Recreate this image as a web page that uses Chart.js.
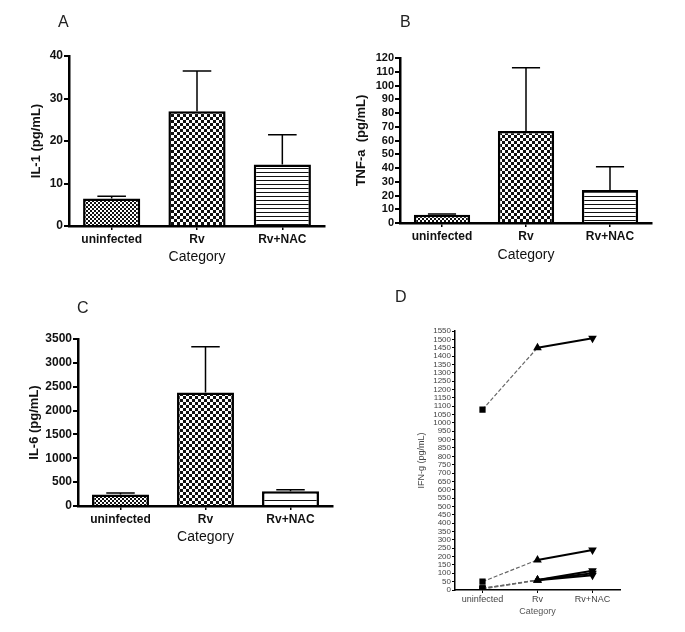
<!DOCTYPE html>
<html>
<head>
<meta charset="utf-8">
<script src="https://cdn.jsdelivr.net/npm/chart.js@4"></script>
<style>
body { margin:0; background:#fff; width:685px; height:632px; position:relative; overflow:hidden; font-family:"Liberation Sans", Arial, sans-serif; }
canvas { position:absolute; }
.lbl { position:absolute; font-size:16px; color:#222; }
</style>
</head>
<body>
<canvas id="chartA" width="340" height="280" style="left:0;top:0"></canvas>
<canvas id="chartB" width="345" height="280" style="left:340px;top:0"></canvas>
<canvas id="chartC" width="340" height="260" style="left:0;top:300px"></canvas>
<canvas id="chartD" width="285" height="332" style="left:400px;top:300px"></canvas>
<div class="lbl" style="left:58px;top:13px">A</div>
<div class="lbl" style="left:400px;top:13px">B</div>
<div class="lbl" style="left:77px;top:299px">C</div>
<div class="lbl" style="left:395px;top:288px">D</div>
<script>
// données
const categories = ['uninfected', 'Rv', 'Rv+NAC'];
const il1Means = [6.5, 27, 14.5];
const il1Sem = [0.5, 9.5, 7];
const tnfMeans = [6, 67, 24];
const tnfSem = [0.5, 46, 17];
const il6Means = [240, 2380, 310];
const il6Sem = [30, 960, 30];
const ifnSerie1 = [1080, 1450, 1507];
const ifnSerie2 = [50, 180, 240];
const ifnSerie3 = [10, 60, 115];
const ifnSerie4 = [5, 60, 100];
const ifnSerie5 = [10, 58, 88];

// motifs de remplissage des barres
function motif(size, draw) {
  const c = document.createElement('canvas');
  c.width = size; c.height = size;
  const g = c.getContext('2d');
  g.fillStyle = '#fff'; g.fillRect(0, 0, size, size);
  g.fillStyle = '#111';
  draw(g);
  return g.createPattern(c, 'repeat');
}
const fin = motif(4, g => { g.fillRect(0, 0, 2, 2); g.fillRect(2, 2, 2, 2); });
const damier = motif(6, g => { g.fillRect(0, 0, 6, 6); g.fillStyle = '#fff'; g.fillRect(0, 0, 3, 3); g.fillRect(3, 3, 3, 3); });
const lignes = motif(4, g => { g.fillRect(0, 0, 4, 1); });
const lignesLarges = motif(8, g => { g.fillRect(0, 0, 8, 1); });

// barres d'erreur (SEM vers le haut)
Chart.register({
  id: 'errBars',
  afterDatasetsDraw(chart, args, opts) {
    if (!opts.sems) return;
    const ctx = chart.ctx;
    const y = chart.scales.y;
    const means = chart.data.datasets[0].data;
    ctx.save();
    ctx.strokeStyle = '#000';
    ctx.lineWidth = 1.5;
    chart.getDatasetMeta(0).data.forEach((bar, i) => {
      const top = y.getPixelForValue(means[i] + opts.sems[i]);
      const half = bar.width / 4;
      ctx.beginPath();
      ctx.moveTo(bar.x, bar.y); ctx.lineTo(bar.x, top);
      ctx.moveTo(bar.x - half, top); ctx.lineTo(bar.x + half, top);
      ctx.stroke();
    });
    ctx.restore();
  }
});

Chart.defaults.font.family = '"Liberation Sans", Arial, sans-serif';
Chart.defaults.color = '#111';
const brut = v => String(v);

function barChart(id, means, sems, fills, c) {
  return new Chart(document.getElementById(id), {
    type: 'bar',
    data: {
      labels: categories,
      datasets: [{
        data: means,
        backgroundColor: fills,
        borderColor: '#000',
        borderWidth: 2.5,
        barPercentage: 0.67,
        categoryPercentage: 1
      }]
    },
    options: {
      responsive: false,
      animation: false,
      devicePixelRatio: 1,
      layout: { padding: c.pad },
      plugins: { legend: { display: false }, tooltip: { enabled: false }, errBars: { sems: sems } },
      scales: {
        x: {
          afterFit: s => { s.height = c.xh; },
          grid: { offset: false, drawOnChartArea: false, drawTicks: true, tickLength: 4, color: '#000', lineWidth: 1.5 },
          border: { display: true, color: '#000', width: 2.5 },
          ticks: { padding: 2, font: { size: 12, weight: 'bold' }, color: '#111' },
          title: { display: true, text: 'Category', font: { size: 14 }, color: '#111', padding: 0 }
        },
        y: {
          min: 0, max: c.max,
          afterFit: s => { s.width = c.yw; },
          grid: { drawOnChartArea: false, drawTicks: true, tickLength: 5, color: '#000', lineWidth: 2 },
          border: { display: true, color: '#000', width: 2.5 },
          ticks: { stepSize: c.step, autoSkip: false, padding: 1, callback: brut, font: { size: c.tickSize, weight: 'bold' }, color: '#111' },
          title: { display: true, text: c.title, font: { size: 13, weight: 'bold' }, color: '#111', padding: { top: c.tp, bottom: 0 } }
        }
      }
    }
  });
}

barChart('chartA', il1Means, il1Sem, [fin, damier, lignes],
  { pad: { left: 0, top: 56, right: 15, bottom: 14 }, xh: 40, yw: 69, max: 40, step: 10, tickSize: 12, title: 'IL-1 (pg/mL)', tp: 29 });
barChart('chartB', tnfMeans, tnfSem, [fin, damier, lignes],
  { pad: { left: 0, top: 58, right: 33, bottom: 16 }, xh: 41, yw: 60, max: 120, step: 10, tickSize: 11, title: 'TNF-a  (pg/mL)', tp: 14 });
barChart('chartC', il6Means, il6Sem, [fin, damier, lignesLarges],
  { pad: { left: 0, top: 39, right: 7, bottom: 14 }, xh: 40, yw: 78, max: 3500, step: 500, tickSize: 12, title: 'IL-6 (pg/mL)', tp: 27 });

// panneau D : courbes individuelles
const ifnSeries = [ifnSerie1, ifnSerie2, ifnSerie3, ifnSerie4, ifnSerie5];
new Chart(document.getElementById('chartD'), {
  type: 'line',
  data: {
    labels: categories,
    datasets: ifnSeries.map(s => ({
      data: s,
      borderColor: '#000',
      borderWidth: 2,
      pointStyle: ['rect', 'triangle', 'triangle'],
      pointRotation: [0, 0, 180],
      pointRadius: 3,
      pointBackgroundColor: '#000',
      pointBorderColor: '#000',
      segment: {
        borderDash: ctx => ctx.p0DataIndex === 0 ? [4, 2] : undefined,
        borderColor: ctx => ctx.p0DataIndex === 0 ? '#666' : '#000',
        borderWidth: ctx => ctx.p0DataIndex === 0 ? 1.2 : 2
      }
    }))
  },
  options: {
    responsive: false,
    animation: false,
    devicePixelRatio: 1,
    layout: { padding: { left: 0, top: 31, right: 65, bottom: 15 } },
    plugins: { legend: { display: false }, tooltip: { enabled: false } },
    scales: {
      x: {
        offset: true,
        afterFit: s => { s.height = 27; },
        grid: { offset: false, drawOnChartArea: false, drawTicks: true, tickLength: 3, color: '#000', lineWidth: 1 },
        border: { display: true, color: '#000', width: 1.5 },
        ticks: { padding: 1, font: { size: 9 }, color: '#444' },
        title: { display: true, text: 'Category', font: { size: 9 }, color: '#555', padding: 0 }
      },
      y: {
        min: 0, max: 1550,
        afterFit: s => { s.width = 55; },
        grid: { drawOnChartArea: false, drawTicks: true, tickLength: 3, color: '#000', lineWidth: 1 },
        border: { display: true, color: '#000', width: 1.5 },
        ticks: { stepSize: 50, autoSkip: false, padding: 1, callback: brut, font: { size: 8 }, color: '#444' },
        title: { display: true, text: 'IFN-g (pg/mL)', font: { size: 9 }, color: '#444', padding: { top: 16, bottom: 0 } }
      }
    }
  }
});
</script>
</body>
</html>
